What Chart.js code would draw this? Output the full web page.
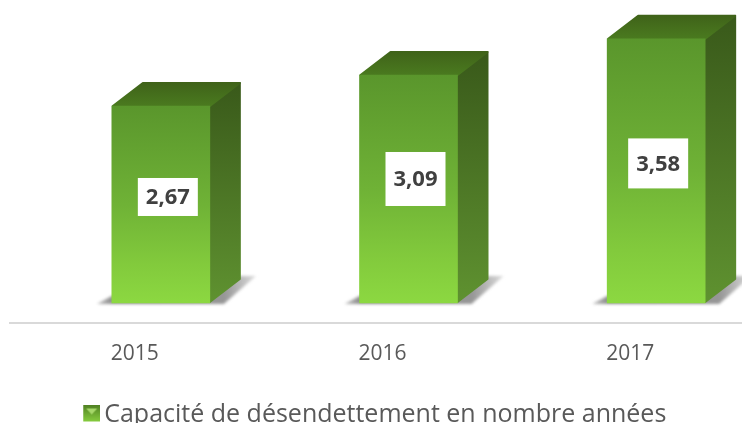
<!DOCTYPE html>
<html><head><meta charset="utf-8">
<style>html,body{margin:0;padding:0;background:#fff;overflow:hidden;width:742px;height:423px}
#w{position:absolute;left:-32px;top:0;width:812px;height:440px}</style>
<script src="https://cdn.jsdelivr.net/npm/chart.js@4/dist/chart.umd.min.js"></script>
</head><body><div id="w"><canvas id="c"></canvas></div>
<script>
const categories = ['2015','2016','2017'];
const seriesName = 'Capacité de désendettement en nombre années';
const capacite = [2.67,3.09,3.58];
const valueLabels = ['2,67','3,09','3,58'];

const DX=31, DY=24;
const labelBox=[{dx:7,dy:-7.5,w:60,h:38},{dx:7,dy:-10,w:60,h:54},{dx:2,dy:-7.5,w:60,h:50}];

const box3d={id:'box3d',
 beforeDatasetsDraw(chart){
  const c=chart.ctx;
  c.save();
  c.strokeStyle='#d9d9d9';c.lineWidth=2;
  c.beginPath();c.moveTo(41,chart.chartArea.bottom);c.lineTo(chart.chartArea.right,chart.chartArea.bottom);c.stroke();
  chart.getDatasetMeta(0).data.forEach(b=>{
   const l=b.x-b.width/2,r=b.x+b.width/2,y0=b.base,y1=b.y;
   // floor shadow
   c.save();c.filter='blur(1.5px)';
   const g=c.createLinearGradient(l-15,0,r+46,0);
   g.addColorStop(0,'#c0c0c0');g.addColorStop(.1,'#8c8c8c');g.addColorStop(.8,'#969696');g.addColorStop(1,'#dcdcdc');
   c.fillStyle=g;c.beginPath();
   c.moveTo(l-15,y0+1);c.lineTo(l,y0-7);c.lineTo(r+31,y0-27);c.lineTo(r+46,y0-27);c.lineTo(r+14,y0+1);c.closePath();c.fill();
   c.restore();
   // side face
   const s=c.createLinearGradient(0,y1-DY,0,y0);
   s.addColorStop(0,'#39591a');s.addColorStop(1,'#5f9230');
   c.fillStyle=s;c.strokeStyle=s;c.lineWidth=2;c.lineJoin='round';c.beginPath();
   c.moveTo(r,y1);c.lineTo(r+DX-1,y1-DY+1);c.lineTo(r+DX-1,y0-DY);c.lineTo(r,y0-1);c.closePath();c.fill();c.stroke();
   // top face
   const t=c.createLinearGradient(0,y1-DY,0,y1);
   t.addColorStop(0,'#3f6219');t.addColorStop(1,'#4a7a1f');
   c.fillStyle=t;c.strokeStyle=t;c.beginPath();
   c.moveTo(l+1,y1);c.lineTo(l+DX,y1-DY+1);c.lineTo(r+DX-1,y1-DY+1);c.lineTo(r,y1);c.closePath();c.fill();c.stroke();
  });
  c.restore();
 },
 afterDatasetsDraw(chart){
  const c=chart.ctx;
  c.save();
  chart.getDatasetMeta(0).data.forEach((b,i)=>{
   const p=labelBox[i],cx=b.x+p.dx,cy=(b.y+b.base)/2+p.dy;
   c.fillStyle='#fff';c.fillRect(cx-p.w/2,cy-p.h/2,p.w,p.h);
   c.fillStyle='#404040';c.font='bold 22px "Open Sans"';c.textAlign='center';c.textBaseline='middle';
   c.fillText(valueLabels[i],cx,cy+1);
  });
  c.restore();
 }};

const ctx=document.getElementById('c').getContext('2d');
function swatch(){
 const s=document.createElement('canvas');s.width=27;s.height=20;
 const x=s.getContext('2d');
 x.translate(10,0);
 const g=x.createLinearGradient(0,0,0,17);g.addColorStop(0,'#4f7f22');g.addColorStop(1,'#86cc3e');
 x.fillStyle=g;x.fillRect(0,0,17,17);
 x.fillStyle='#a6d86a';x.beginPath();x.moveTo(3,4);x.lineTo(14,4);x.lineTo(8.5,10);x.closePath();x.fill();
 return s;
}
new Chart(ctx,{type:'bar',plugins:[box3d],
 data:{labels:categories,datasets:[{label:seriesName,data:capacite,borderWidth:0,
  barThickness:98,
  pointStyle:swatch(),
  backgroundColor(cx){
   const a=cx.chart.chartArea;if(!a||cx.raw==null)return '#6aa832';
   const y=cx.chart.scales.y;
   const g=cx.chart.ctx.createLinearGradient(0,y.getPixelForValue(cx.raw),0,y.getPixelForValue(0));
   g.addColorStop(0,'#5a962c');g.addColorStop(.5,'#6fb236');g.addColorStop(.8,'#82ca3c');g.addColorStop(1,'#8cd841');return g;
  }}]},
 options:{responsive:true,maintainAspectRatio:false,animation:false,
  layout:{padding:{top:0,bottom:3}},
  plugins:{tooltip:{enabled:false},
   legend:{position:'bottom',labels:{usePointStyle:true,color:'#595959',font:{family:'"Open Sans"',size:25},padding:2,boxWidth:10,boxHeight:17}}},
  scales:{
   x:{grid:{display:false},border:{display:false},afterFit(s){s.height=77;},
      ticks:{color:'#595959',font:{family:'"Open Sans"',size:21},padding:10,labelOffset:-26}},
   y:{min:-0.271,max:4.106,display:true,grid:{display:false},border:{display:false},
      ticks:{display:false},afterFit(s){s.width=69;}}
  }}});
</script></body></html>
